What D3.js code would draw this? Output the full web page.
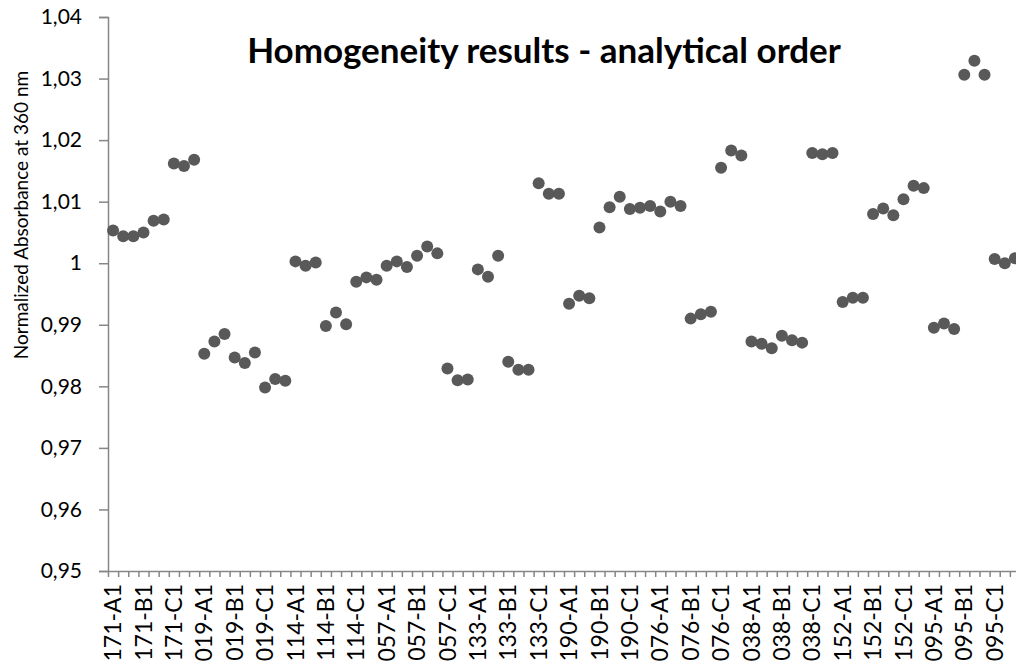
<!DOCTYPE html>
<html>
<head>
<meta charset="utf-8">
<script src="https://cdn.jsdelivr.net/npm/d3@7"></script>
<style>
  html, body { margin: 0; padding: 0; background: #fff; }
  #d3-container { width: 1016px; height: 670px; overflow: hidden; }
  text { font-family: Lato, "Open Sans", sans-serif; fill: #000; }
</style>
</head>
<body>
<div id="d3-container"></div>
<script>
// samples, bottles and replicate numbers (category = sample-bottle+replicate)
const samples = ["171", "019", "114", "057", "133", "190", "076", "038", "152", "095"];
const bottles = ["A", "B", "C"];
const replicates = [1, 2, 3];

// normalized absorbance, in analytical order
const values = [
    1.0053, 1.0044, 1.0044, 1.0050, 1.0069, 1.0071, 1.0162, 1.0158, 1.0168,
    0.9853, 0.9873, 0.9885, 0.9847, 0.9838, 0.9855, 0.9798, 0.9812, 0.9809,
    1.0003, 0.9996, 1.0001, 0.9898, 0.9920, 0.9901, 0.9970, 0.9977, 0.9973,
    0.9996, 1.0003, 0.9994, 1.0012, 1.0027, 1.0016, 0.9829, 0.9810, 0.9811,
    0.9990, 0.9978, 1.0012, 0.9840, 0.9827, 0.9827, 1.0130, 1.0113, 1.0113,
    0.9934, 0.9947, 0.9943, 1.0058, 1.0091, 1.0108, 1.0088, 1.0090, 1.0093,
    1.0084, 1.0100, 1.0093, 0.9910, 0.9917, 0.9921, 1.0155, 1.0183, 1.0175,
    0.9873, 0.9869, 0.9862, 0.9882, 0.9875, 0.9871, 1.0179, 1.0177, 1.0179,
    0.9937, 0.9944, 0.9944, 1.0080, 1.0089, 1.0078, 1.0104, 1.0126, 1.0122,
    0.9895, 0.9902, 0.9893, 1.0306, 1.0329, 1.0306, 1.0007, 1.0000, 1.0008
];

const yTicks = [0.95, 0.96, 0.97, 0.98, 0.99, 1, 1.01, 1.02, 1.03, 1.04];

const title = "Homogeneity results - analytical order";
const yTitle = "Normalized Absorbance at 360 nm";

function drawChart() {
    d3.select("#d3-container").selectAll("*").remove()

    const categories = [];
    samples.forEach(s => bottles.forEach(b => replicates.forEach(r => categories.push(s + "-" + b + r))));
    const data = categories.map((c, i) => ({ name: c, value: values[i] }));

    const width = 1016;
    const height = 670;
    const margin = { top: 17, bottom: 99, left: 108, right: -4 };

    const svg = d3.select('#d3-container')
        .append('svg')
        .attr('width', width)
        .attr('height', height);

    // x scale (one band per measurement)
    const x = d3.scaleBand()
        .domain(categories)
        .range([margin.left, width - margin.right])
    // index scale, used for tick marks between categories
    const xi = d3.scaleLinear()
        .domain([0, categories.length])
        .range([margin.left, width - margin.right])
    // y scale
    const y = d3.scaleLinear()
        .domain([0.95, 1.04])
        .range([height - margin.bottom, margin.top])

    const locale = d3.formatLocale({ decimal: ",", thousands: ".", grouping: [3], currency: ["", ""] });
    const fmt = locale.format("~g");

    // y axis
    const yAxis = svg.append("g")
        .attr("transform", `translate(${margin.left}, 0)`)
        .call(d3.axisLeft(y).tickValues(yTicks).tickFormat(fmt).tickSize(9).tickPadding(17))
    yAxis.selectAll("path, line").attr("stroke", "#868686").attr("stroke-width", 1.5)
    yAxis.selectAll("text").attr("font-size", "21px").attr("fill", "#000")

    // x axis tick marks
    const xTicks = svg.append("g")
        .attr("transform", `translate(0,${height - margin.bottom})`)
        .call(d3.axisBottom(xi).tickValues(d3.range(0, categories.length + 1)).tickFormat("").tickSize(6).tickSizeOuter(0))
    xTicks.selectAll("path, line").attr("stroke", "#868686").attr("stroke-width", 1.5)

    // x axis labels (every third category)
    const xLabels = svg.append("g")
        .attr("transform", `translate(0,${height - margin.bottom})`)
        .call(d3.axisBottom(x).tickValues(categories.filter((d, i) => i % 3 === 0)).tickSize(0))
    xLabels.select(".domain").remove()
    xLabels.selectAll("text")
        .attr("transform", "rotate(-90)")
        .attr("text-anchor", "end")
        .attr("x", -13)
        .attr("y", 0)
        .attr("dy", "0.35em")
        .attr("font-size", "23px")
        .attr("fill", "#000")

    // points
    svg.append("g")
        .attr("fill", "#595959")
        .selectAll("circle")
        .data(data)
        .join("circle")
        .attr("cx", d => x(d.name) + x.bandwidth() / 2)
        .attr("cy", d => y(d.value))
        .attr("r", 6);

    // title
    svg.append("text")
        .attr("x", 544)
        .attr("y", 63)
        .attr("text-anchor", "middle")
        .attr("font-size", "35px")
        .attr("font-weight", 700)
        .text(title);

    // y axis title
    svg.append("text")
        .attr("transform", "rotate(-90)")
        .attr("x", -215)
        .attr("y", 28)
        .attr("text-anchor", "middle")
        .attr("font-size", "19px")
        .text(yTitle);
}

drawChart();
</script>
</body>
</html>
